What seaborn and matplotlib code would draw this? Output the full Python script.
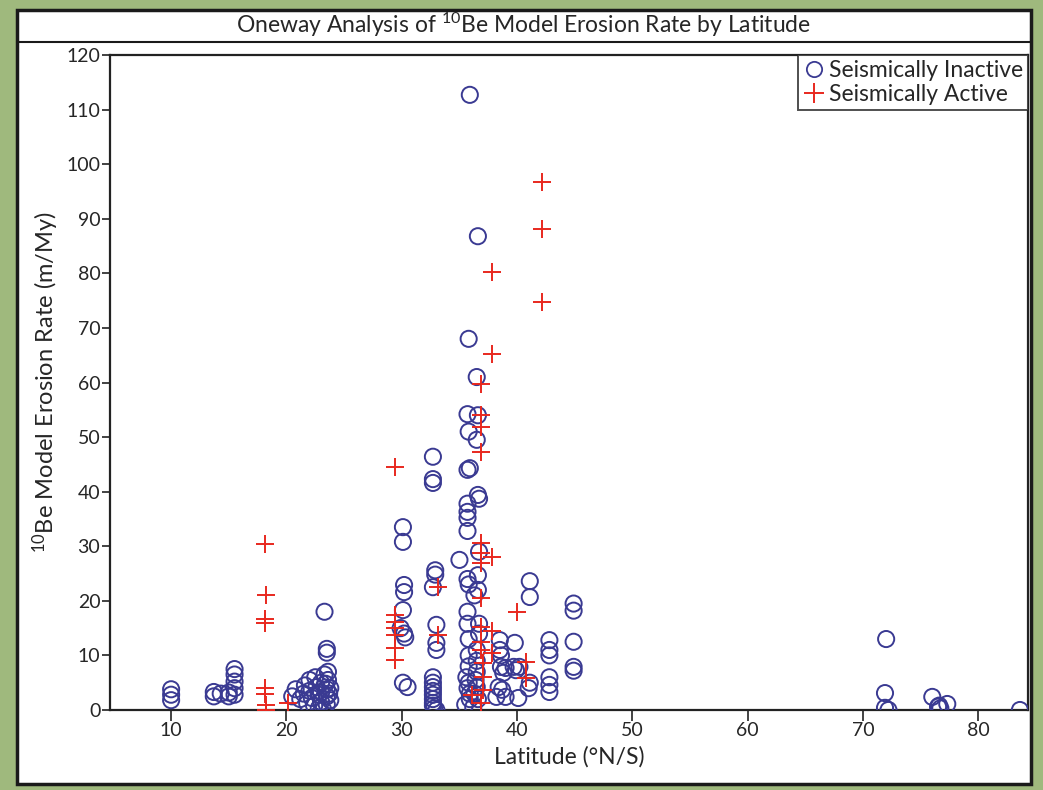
import matplotlib
matplotlib.use("Agg")
import matplotlib.pyplot as plt
from matplotlib.lines import Line2D
from matplotlib.patches import Rectangle
import seaborn as sns
import pandas as pd

# ---- data ----
inactive_lat = [10.0, 10.0, 10.0, 13.7, 13.7, 14.3, 15.0, 15.0, 15.5, 15.5, 15.5, 15.5, 15.5,
                20.5, 20.8, 21.2, 21.5, 21.6, 21.8, 22.0, 22.0, 22.2, 22.4, 22.5, 22.6, 22.8, 22.8,
                23.0, 23.0, 23.0, 23.2, 23.3, 23.4, 23.5, 23.5, 23.5, 23.6, 23.6, 23.7, 23.8, 23.8,
                23.5, 23.5, 23.3,
                30.1, 30.1, 30.2, 30.2, 30.1, 29.9, 30.2, 30.3, 30.1, 30.5,
                32.7, 32.7, 32.7, 32.9, 32.9, 32.7, 33.0, 33.0, 33.0, 32.7, 32.7, 32.7, 32.7, 32.7,
                32.7, 32.7, 32.7, 32.8, 33.0,
                35.9, 36.6, 35.8, 36.5, 35.7, 36.6, 35.8, 36.5, 35.7, 35.9, 36.6, 36.7, 35.7, 35.7,
                35.7, 35.7, 35.0, 36.7, 35.7, 36.6, 35.8, 36.6, 36.3, 35.7, 35.7, 36.7, 36.7,
                35.8, 35.8, 35.8, 35.6, 35.8, 35.7, 35.9, 35.9, 35.5, 36.5, 36.5, 36.5, 36.4, 36.5,
                36.3, 36.6, 36.2,
                38.5, 38.5, 38.6, 38.6, 39.0, 38.8, 40.2, 38.4, 38.7, 38.2, 39.0, 40.1, 41.1, 41.0,
                41.1, 41.1, 39.8, 39.7, 39.9,
                42.8, 42.8, 42.8, 42.8, 42.8, 42.8,
                44.9, 44.9, 44.9, 44.9, 44.9,
                72.0, 71.9, 71.9, 72.2, 76.0, 76.5, 76.7, 76.6, 77.3, 83.6]
inactive_rate = [1.8, 2.8, 3.8, 3.3, 2.5, 3.0, 2.5, 3.2, 7.5, 6.5, 5.2, 4.0, 2.8,
                 2.5, 3.8, 2.0, 3.0, 4.5, 1.2, 5.5, 3.5, 2.2, 0.8, 6.0, 4.2, 2.8, 0.3,
                 5.0, 3.2, 1.5, 0.0, 6.5, 4.8, 3.8, 2.5, 1.0, 7.0, 5.5, 3.0, 4.0, 1.8,
                 10.5, 11.2, 18.0,
                 33.5, 30.8, 22.9, 21.6, 18.3, 15.0, 14.0, 13.3, 5.0, 4.2,
                 46.4, 42.3, 41.6, 25.6, 24.8, 22.5, 15.6, 12.3, 11.0, 6.0, 5.0, 4.2, 3.5, 2.8,
                 2.0, 1.3, 0.8, 0.3, 0.0,
                 112.7, 86.8, 68.0, 61.0, 54.2, 54.0, 51.0, 49.5, 44.0, 44.3, 39.4, 38.7, 37.8, 36.3,
                 35.2, 32.8, 27.5, 29.0, 24.0, 24.7, 23.0, 22.0, 21.0, 18.0, 15.8, 15.8, 14.0,
                 13.0, 10.0, 8.0, 6.0, 5.0, 4.0, 3.0, 2.0, 1.0, 11.0, 9.0, 7.0, 5.5, 4.2,
                 3.0, 2.0, 0.5,
                 12.8, 11.0, 10.0, 7.9, 7.7, 6.8, 7.9, 4.2, 3.7, 2.4, 2.4, 2.2, 5.0, 4.0,
                 23.6, 20.7, 12.3, 7.9, 7.3,
                 12.8, 11.0, 10.0, 6.0, 4.6, 3.3,
                 19.5, 18.2, 12.5, 7.9, 7.2,
                 13.0, 3.1, 0.4, 0.0, 2.4, 0.6, 0.3, 0.8, 1.1, 0.0]

active_lat = [18.1, 18.2, 18.1, 18.1, 18.1, 18.1, 18.2, 18.2, 20.1,
              29.4, 29.4, 29.4, 29.4, 29.4, 29.4, 29.4,
              33.1, 33.1,
              42.2, 42.2, 37.8, 42.2, 37.8, 36.9, 36.9, 36.9, 36.9, 36.9, 36.9, 37.8, 36.9,
              36.9, 40.0, 36.9, 37.8, 36.9, 36.9, 37.8, 37.0, 37.0, 37.0, 36.9, 40.8, 40.8, 36.1]
active_rate = [30.5, 21.0, 16.6, 16.0, 4.0, 3.0, 1.0, 0.0, 1.3,
               44.5, 17.4, 16.1, 15.0, 13.7, 11.4, 9.2,
               22.5, 13.7,
               96.7, 88.1, 80.2, 74.7, 65.2, 59.7, 54.0, 51.8, 47.3, 30.6, 28.8, 28.0, 26.9,
               20.5, 18.0, 15.2, 14.5, 12.5, 11.0, 10.4, 8.6, 6.0, 3.7, 1.3, 8.8, 5.9, 2.8]

groups = ["Seismically Inactive", "Seismically Active"]
x_ticks = [10, 20, 30, 40, 50, 60, 70, 80]
y_ticks = list(range(0, 121, 10))

df_in = pd.DataFrame({"lat": inactive_lat, "rate": inactive_rate})
df_ac = pd.DataFrame({"lat": active_lat, "rate": active_rate})

# ---- style ----
sns.set_style("white")
FONT = ["Lato", "DejaVu Sans"]
plt.rcParams["font.family"] = FONT
plt.rcParams["mathtext.fontset"] = "custom"
plt.rcParams["mathtext.rm"] = "Lato"
plt.rcParams["mathtext.it"] = "Lato:italic"
plt.rcParams["mathtext.bf"] = "Lato:bold"

NAVY = "#3a3a92"
RED = "#e8281e"
GREEN = "#9fb97d"

fig = plt.figure(figsize=(10.43, 7.9), dpi=100, facecolor=GREEN)
W, H = 1043, 790

def fx(px):
    return px / W

def fy(py):
    return 1 - py / H

# white panel with dark border
fig.patches.append(Rectangle((fx(17), fy(784)), fx(1031) - fx(17), fy(10) - fy(784),
                             transform=fig.transFigure, facecolor="white",
                             edgecolor="#1a1a1a", linewidth=2.5, zorder=-5))
# title separator line
fig.add_artist(Line2D([fx(17), fx(1031)], [fy(42), fy(42)], transform=fig.transFigure,
                      color="#1a1a1a", linewidth=1.5, zorder=-4))
fig.text(fx(524), fy(25), r"Oneway Analysis of $^{10}$Be Model Erosion Rate by Latitude",
         ha="center", va="center", fontsize=16.5)

ax = fig.add_axes([fx(110), fy(710), fx(1028) - fx(110), fy(55) - fy(710)])
ax.set_zorder(2)
ax.set_facecolor("white")

sns.scatterplot(data=df_in, x="lat", y="rate", ax=ax, marker="o", s=135,
                facecolors="none", edgecolors=NAVY, linewidth=1.4, legend=False, zorder=3)
sns.scatterplot(data=df_ac, x="lat", y="rate", ax=ax, marker="+", s=175,
                color=RED, linewidth=1.4, legend=False, zorder=4)

ax.set_xlim(4.7, 84.3)
ax.set_ylim(0, 120)
ax.set_xticks(x_ticks)
ax.set_yticks(y_ticks)
ax.tick_params(axis="x", direction="out", length=8, width=1.2, labelsize=14, pad=1, color="#222")
ax.tick_params(axis="y", direction="out", length=6, width=1.2, labelsize=14, pad=1, color="#222")
ax.tick_params(bottom=True, left=True)
for side, sp in ax.spines.items():
    sp.set_visible(True)
    sp.set_color("#222222")
    sp.set_linewidth(1.6)

ax.set_xlabel("Latitude (°N/S)", fontsize=16.5, labelpad=5)
ax.set_ylabel(r"$^{10}$Be Model Erosion Rate (m/My)", fontsize=17, labelpad=4)

handles = [Line2D([], [], linestyle="none", marker="o", markersize=11, markerfacecolor="none",
                  markeredgecolor=NAVY, markeredgewidth=1.3),
           Line2D([], [], linestyle="none", marker="+", markersize=15, color=RED,
                  markeredgewidth=1.4)]
leg = ax.legend(handles, groups, loc="upper right", fontsize=16.5, frameon=True, fancybox=False,
                borderaxespad=0, borderpad=0.2, handletextpad=0.15, handlelength=1.0,
                labelspacing=0.15, edgecolor="#222222")
leg.get_frame().set_linewidth(1.4)

fig.savefig("out.png", dpi=100, facecolor=GREEN)
